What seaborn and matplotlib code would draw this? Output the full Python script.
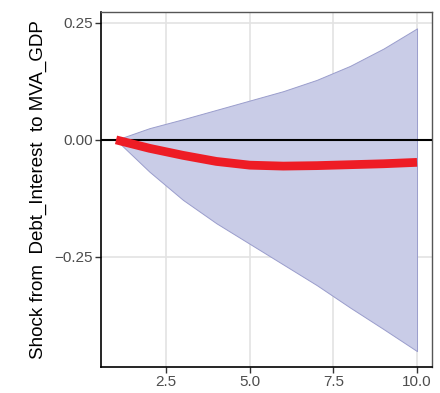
import pandas as pd
import matplotlib
matplotlib.use("Agg")
import matplotlib.pyplot as plt
import seaborn as sns

# impulse response values
horizon = [1, 2, 3, 4, 5, 6, 7, 8, 9, 10]
irf = [0.0, -0.018, -0.033, -0.046, -0.054, -0.056, -0.055, -0.053, -0.051, -0.048]
lower = [0.0, -0.068, -0.128, -0.178, -0.222, -0.266, -0.31, -0.358, -0.404, -0.451]
upper = [0.0, 0.025, 0.044, 0.064, 0.084, 0.104, 0.128, 0.158, 0.195, 0.238]

df = pd.DataFrame({'horizon': horizon, 'irf': irf, 'lower': lower, 'upper': upper})

sns.set_theme(style="whitegrid")
plt.rcParams['font.family'] = ['Liberation Sans', 'DejaVu Sans']

fig = plt.figure(figsize=(4.4, 3.93), dpi=100)
ax = fig.add_axes([0.2295, 0.066, 0.7525, 0.9035])

ax.fill_between(df['horizon'], df['lower'], df['upper'],
                facecolor='#c9cce7', edgecolor='#9a9dcc', linewidth=0.7, zorder=2)
ax.axhline(0, color='black', linewidth=1.5, zorder=3)
sns.lineplot(data=df, x='horizon', y='irf', color='#ee1c25', linewidth=6.3,
             ax=ax, zorder=4, solid_capstyle='butt')

ax.set_xlim(0.55, 10.45)
ax.set_ylim(-0.485, 0.273)
ax.set_xticks([2.5, 5.0, 7.5, 10.0])
ax.set_xticklabels(['2.5', '5.0', '7.5', '10.0'])
ax.set_yticks([-0.25, 0.0, 0.25])
ax.set_yticklabels(['\u22120.25', '0.00', '0.25'])
ax.set_xlabel('')
ax.set_ylabel('Shock from  Debt_Interest  to MVA_GDP', fontsize=13.5, color='black', labelpad=5)

ax.set_facecolor('white')
ax.grid(True, color='#e3e3e3', linewidth=1.2)
ax.set_axisbelow(True)
for side in ['top', 'right']:
    ax.spines[side].set_color('#555555')
    ax.spines[side].set_linewidth(1.0)
for side in ['left', 'bottom']:
    ax.spines[side].set_color('black')
    ax.spines[side].set_linewidth(1.2)

ax.tick_params(axis='both', which='major', length=4, width=1, color='#333333',
               labelsize=11, labelcolor='#4d4d4d', pad=2, bottom=True, left=True)

fig.savefig('out.png', dpi=100)
